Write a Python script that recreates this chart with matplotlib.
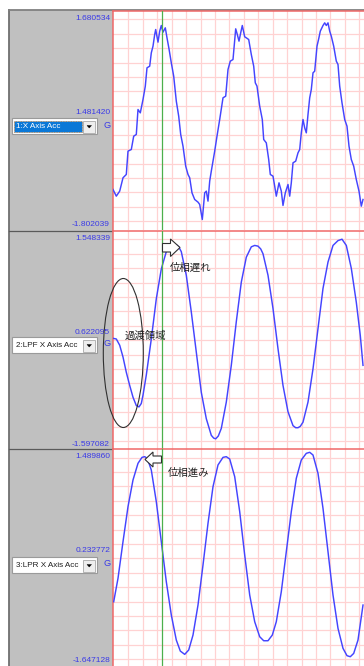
import numpy as np
import matplotlib.pyplot as plt
from matplotlib.patches import Rectangle, Ellipse, Polygon

plt.rcParams['font.family'] = ['Liberation Sans', 'Noto Sans CJK JP']
JP = ['Noto Sans CJK JP', 'DejaVu Sans']

# ---- data: sample index vs acceleration [G] ----
t_x = [0, 3.3, 6.7, 10, 13.3, 15, 18.3, 20.7, 23.3, 25, 27.3, 30, 32.3, 34, 36.7, 38.3,
       40, 41.7, 42.7, 45, 46.7, 48.3, 50, 52.3, 54, 56, 58.3, 60.7, 63.3, 65.7, 67.7,
       70, 72.7, 75, 76.7, 79, 81.7, 85, 86.7, 89.3, 91.7, 93.3, 95, 96.7, 98.3, 101.7,
       104, 106.7, 110, 112.7, 115, 117.3, 120, 122.7, 124.3, 126, 127.7, 129.3, 131.7,
       133.3, 135.7, 138.3, 140.7, 142.3, 144, 146.7, 149.3, 150.7, 153.3, 155.7, 157.3,
       160, 161.7, 163.3, 166, 168.3, 170, 172.3, 175, 176.7, 178.3, 180, 182.7, 185,
       186.7, 188.3, 190, 191.7, 193.3, 195, 196.7, 198.3, 200, 201.7, 204, 205.7, 207.3,
       210, 211.7, 213.3, 215, 216.7, 218.3, 220.7, 223.3, 225, 226.7, 229, 231.7, 234,
       236, 238.3, 240.7, 243.3, 246, 248.3, 250]
x_acc = [-1.158, -1.264, -1.184, -0.972, -0.919, -0.548, -0.522, -0.310, -0.283, 0.114,
         0.061, 0.273, 0.485, 0.777, 0.803, 1.015, 1.121, 1.307, 1.386, 1.185, 1.360,
         1.450, 1.344, 1.413, 1.254, 1.079, 0.856, 0.644, 0.247, 0.008, -0.283, -0.469,
         -0.787, -0.919, -0.972, -1.211, -1.317, -1.359, -1.396, -1.635, -1.211, -1.184,
         -1.343, -1.025, -0.866, -0.548, -0.310, -0.045, 0.300, 0.326, 0.750, 0.883,
         0.909, 1.397, 1.307, 1.201, 1.333, 1.450, 1.270, 1.254, 1.227, 0.989, 0.803,
         0.538, 0.485, 0.167, -0.045, -0.363, -0.416, -0.681, -0.919, -0.946, -1.105,
         -1.264, -1.052, -1.184, -1.412, -1.211, -1.078, -1.264, -1.052, -0.734, -0.707,
         -0.575, -0.522, -0.257, -0.045, -0.177, -0.257, 0.035, 0.300, 0.432, 0.697,
         0.724, 1.121, 1.238, 1.360, 1.450, 1.492, 1.450, 1.492, 1.360, 1.280, 1.121,
         0.883, 0.830, 0.485, 0.220, -0.045, -0.151, -0.469, -0.681, -0.787, -0.999,
         -1.184, -1.423, -1.317]

t_lpf = [0, 3.3, 6.7, 10, 13.3, 16.7, 20, 23.3, 26, 28.3, 30, 33.3, 38.3, 43.3, 48.3,
         53.3, 58.3, 61, 63.3, 65.7, 68.3, 73.3, 78.3, 83.3, 88.3, 93.3, 98.3, 100.7,
         102.7, 105.3, 108.3, 113.3, 118.3, 123.3, 128.3, 133.3, 138.3, 141.7, 145,
         147.7, 150, 155, 160, 165, 170, 175, 180, 182.7, 185, 187.3, 190, 195, 200, 205,
         210, 215, 220, 225, 229, 233.3, 238.3, 243.3, 247.3, 250]
lpf_acc = [0.00, -0.01, -0.10, -0.27, -0.49, -0.68, -0.85, -0.97, -0.99, -0.94,
           -0.82, -0.53, -0.01, 0.57, 1.00, 1.25, 1.33, 1.35, 1.35, 1.32,
           1.25, 0.91, 0.38, -0.20, -0.78, -1.16, -1.40, -1.44, -1.45, -1.41,
           -1.30, -0.92, -0.39, 0.24, 0.81, 1.17, 1.32, 1.34, 1.33, 1.29,
           1.22, 0.91, 0.43, -0.15, -0.68, -1.06, -1.26, -1.29, -1.29, -1.27,
           -1.21, -0.92, -0.44, 0.14, 0.72, 1.10, 1.34, 1.41, 1.43, 1.34,
           1.01, 0.52, 0.04, -0.39]

t_lpr = [0.7, 5, 10, 15, 20, 25, 29, 31.7, 34.3, 38.3, 43.3, 48.3, 53.3, 58.3, 63.3,
         67.3, 71.7, 75.7, 80, 85, 90, 95, 100, 105, 110, 113.3, 116.7, 121.7, 126.7,
         131.7, 136.7, 141.7, 146.7, 150.7, 155, 159.3, 163.3, 168.3, 173.3, 178.3,
         183.3, 188.3, 193.3, 196.7, 200, 205, 210, 215, 220, 225, 230, 234, 237.3,
         240.7, 245, 250]
lpr_acc = [-0.718, -0.380, 0.150, 0.656, 1.042, 1.283, 1.369, 1.379, 1.355, 1.186,
           0.728, 0.150, -0.428, -0.910, -1.272, -1.431, -1.479, -1.416, -1.200, -0.766,
           -0.187, 0.415, 0.945, 1.259, 1.369, 1.379, 1.345, 1.090, 0.584, -0.043,
           -0.621, -1.007, -1.224, -1.282, -1.282, -1.200, -1.007, -0.573, 0.005, 0.584,
           1.066, 1.331, 1.427, 1.442, 1.403, 1.138, 0.632, 0.005, -0.621, -1.103,
           -1.392, -1.498, -1.513, -1.465, -1.272, -0.766]

channels = ['1:X Axis Acc', '2:LPF X Axis Acc', '3:LPR X Axis Acc']
y_max = [1.680534, 1.548339, 1.489860]
y_min = [-1.802039, -1.597082, -1.647128]
mid_values = ['1.481420', '0.622095', '0.232772']
unit = 'G'
cursor_t = 48.7

# ---- layout in screen pixels ----
W, H = 364, 666
PLOT_X0 = 113
panels = [(11, 230), (231, 449), (449, 666)]   # top, bottom of each plot
drop_y = [118, 337, 557]
series = [(t_x, x_acc), (t_lpf, lpf_acc), (t_lpr, lpr_acc)]

BLUE = '#4444ff'
LABEL = '#3a3ae8'
GRID = '#ffd2d2'
RED = '#f06868'
GREEN = '#4cb04c'

fig = plt.figure(figsize=(W / 100, H / 100), dpi=100, facecolor='white')

# background: gray side panel, frame lines
bg = fig.add_axes([0, 0, 1, 1])
bg.set_xlim(0, W)
bg.set_ylim(H, 0)
bg.axis('off')
bg.add_patch(Rectangle((9, 10), PLOT_X0 - 9, H - 10, facecolor='#c0c0c0', edgecolor='none'))
bg.plot([8.5, 8.5], [9.5, H], color='#707070', lw=1.3)
bg.plot([8.5, W], [9.8, 9.8], color='#808080', lw=1.3)
for top, bottom in panels[1:]:
    bg.plot([9, PLOT_X0], [top - 0.5, top - 0.5], color='#5a5a5a', lw=0.9)

for i, (top, bottom) in enumerate(panels):
    ax = fig.add_axes([PLOT_X0 / W, 1 - bottom / H, (W - PLOT_X0) / W, (bottom - top) / H])
    lo, hi = y_min[i], y_max[i]
    ax.set_xlim(0, W - PLOT_X0)
    ax.set_ylim(lo, hi)
    g_per_px = (hi - lo) / (bottom - top)
    ax.set_xticks(np.arange(15.3, W - PLOT_X0, 14.44))
    ax.set_yticks(hi - g_per_px * np.arange(8.5, bottom - top, 14.4))
    ax.grid(True, color=GRID, lw=0.9)
    ax.tick_params(length=0, labelbottom=False, labelleft=False)
    for side in ['right', 'bottom']:
        ax.spines[side].set_visible(False)
    for side in ['left', 'top']:
        ax.spines[side].set_color(RED)
        ax.spines[side].set_linewidth(1.1)
    t, v = series[i]
    ax.plot(t, v, color=BLUE, lw=1.05, zorder=3)
    ax.axvline(cursor_t, color=GREEN, lw=0.9, zorder=4)

    # value labels on the gray panel
    bg.text(110, top + 7, f'{hi:.6f}', color=LABEL, fontsize=6, ha='right', va='center')
    bg.text(110, top + 102, mid_values[i], color=LABEL, fontsize=6, ha='right', va='center')
    bg.text(110, bottom - 5, f'{lo:.6f}', color=LABEL, fontsize=6, ha='right', va='center')
    bg.text(107, drop_y[i] + 7, unit, color=LABEL, fontsize=6.6, ha='center', va='center')

    # channel drop-down
    y0 = drop_y[i]
    bg.add_patch(Rectangle((12, y0), 85, 16, facecolor='white', edgecolor='#9a9a9a', lw=0.8))
    sel = i == 0
    if sel:
        bg.add_patch(Rectangle((14, y0 + 2.5), 68, 11, facecolor='#0a78d7',
                               edgecolor='#c08040', lw=0.6, ls=(0, (1, 1))))
    bg.text(16.5, y0 + 8.3, channels[i], color='white' if sel else '#202020',
            fontsize=5.9, ha='left', va='center')
    bg.add_patch(Rectangle((83.3, y0 + 2.5), 11.7, 12, facecolor='#eeeeee',
                           edgecolor='#a8a8a8', lw=0.6, zorder=5))
    bg.add_patch(Polygon([(87, y0 + 7.5), (91.5, y0 + 7.5), (89.25, y0 + 10)],
                         closed=True, facecolor='black', edgecolor='black', lw=0.3, zorder=6))

# annotations on top
ov = fig.add_axes([0, 0, 1, 1])
ov.set_xlim(0, W)
ov.set_ylim(H, 0)
ov.axis('off')
ov.patch.set_alpha(0)
ov.add_patch(Ellipse((123.3, 353), 40, 149, facecolor='none', edgecolor='#303030', lw=0.8))
ov.text(125, 336, '過渡領域', family=JP, fontsize=7.5, color='#202020', va='center')
ov.add_patch(Polygon([(162.5, 243.5), (170.5, 243.5), (170.5, 239), (180, 247.5),
                      (170.5, 256.5), (170.5, 252), (162.5, 252)],
                     closed=True, facecolor='white', edgecolor='#303030', lw=0.8))
ov.text(170, 267.5, '位相遅れ', family=JP, fontsize=7.5, color='#202020', va='center')
ov.add_patch(Polygon([(161.5, 456), (153, 456), (153, 452), (145, 459.5),
                      (153, 467), (153, 463), (161.5, 463)],
                     closed=True, facecolor='white', edgecolor='#303030', lw=0.8))
ov.text(168, 472.5, '位相進み', family=JP, fontsize=7.5, color='#202020', va='center')

fig.savefig('out.png', dpi=100)
